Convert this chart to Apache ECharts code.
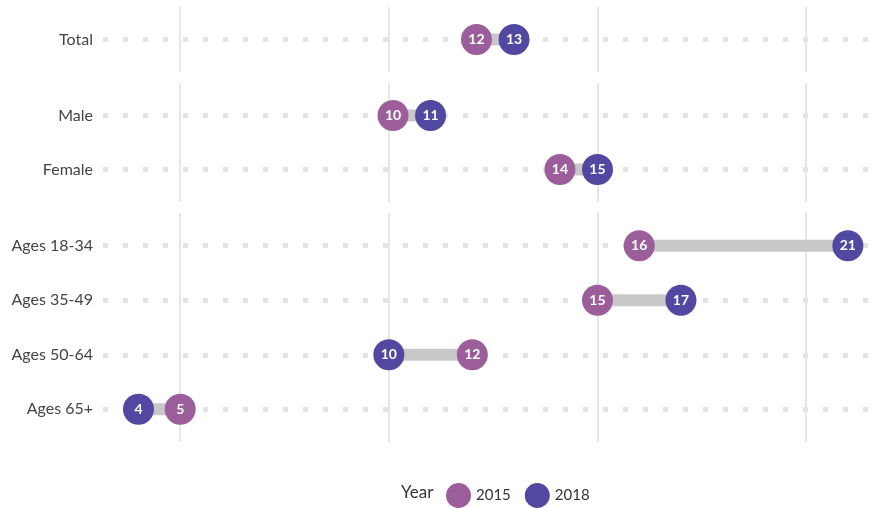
<!DOCTYPE html>
<html>
<head>
<meta charset="utf-8">
<script src="https://cdn.jsdelivr.net/npm/echarts@6/dist/echarts.min.js"></script>
<style>
  html, body { margin: 0; padding: 0; background: #fff; }
  #chart { width: 880px; height: 508px; }
</style>
</head>
<body>
<div id="chart"></div>
<script>
(function () {
  "use strict";

  // Data
  const categories = ['Total', 'Male', 'Female', 'Ages 18-34', 'Ages 35-49', 'Ages 50-64', 'Ages 65+'];
  const panelOf = [0, 1, 1, 2, 2, 2, 2];
  const values2015 = [12.1, 10.1, 14.1, 16, 15, 12, 5];
  const values2018 = [13, 11, 15, 21, 17, 10, 4];
  const years = ['2015', '2018'];

  const colors = { '2015': '#9c5e9b', '2018': '#5247a1' };
  const font = 'Lato, "Source Sans Pro", sans-serif';

  // panel boxes (top, height)
  const panels = [
    { top: 7, height: 65 },
    { top: 83, height: 119 },
    { top: 213, height: 229 }
  ];

  // rows of each panel; y position = 3 + 5 * index in panel
  const rowsOf = panels.map((_, p) => categories
    .map((c, i) => i)
    .filter(i => panelOf[i] === p));
  const yPos = k => 3 + 5 * k;

  const grid = [], xAxis = [], yAxis = [], series = [];

  panels.forEach((box, p) => {
    const rows = rowsOf[p];
    const names = rows.map(i => categories[i]);

    grid.push({ left: 103, right: 0, top: box.top, height: box.height });

    xAxis.push({
      type: 'value', gridIndex: p, min: 3.15, max: 21.77, splitNumber: 4,
      axisLine: { show: false }, axisTick: { show: false }, axisLabel: { show: false },
      splitLine: { show: true, showMinLine: false, showMaxLine: false, lineStyle: { color: '#e6e6e6', width: 2 } }
    });

    yAxis.push({
      type: 'value', gridIndex: p, inverse: true, min: 0, max: 5 * (rows.length - 1) + 6, interval: 1,
      axisLine: { show: false }, axisTick: { show: false }, splitLine: { show: false },
      axisLabel: {
        margin: 10, fontSize: 16, color: '#444', fontFamily: font,
        formatter: v => ((v - 3) % 5 === 0 ? names[(v - 3) / 5] || '' : '')
      }
    });

    // dotted row guides
    series.push({
      type: 'line', xAxisIndex: p, yAxisIndex: p, data: [], z: 1, zlevel: 0, silent: true,
      markLine: {
        silent: true, symbol: 'none', label: { show: false }, animation: false, z: 1,
        lineStyle: { color: '#e4e4e4', width: 5, type: [5, 15], cap: 'butt' },
        data: rows.map((i, k) => ({ yAxis: yPos(k) }))
      }
    });

    // grey connector
    series.push({
      type: 'custom', xAxisIndex: p, yAxisIndex: p, z: 9, silent: true,
      data: rows.map((i, k) => [values2015[i], values2018[i], yPos(k)]),
      encode: { x: [0, 1], y: 2 },
      renderItem: (params, api) => {
        const a = api.coord([api.value(0), api.value(2)]);
        const b = api.coord([api.value(1), api.value(2)]);
        return {
          type: 'line',
          shape: { x1: a[0], y1: a[1], x2: b[0], y2: b[1] },
          style: { stroke: '#c8c8c8', lineWidth: 12 }
        };
      }
    });

    // dots
    [values2015, values2018].forEach((vals, s) => {
      series.push({
        name: years[s], type: 'scatter', xAxisIndex: p, yAxisIndex: p, z: 10,
        symbolSize: 31,
        itemStyle: { color: colors[years[s]], opacity: 1 },
        label: {
          show: true, position: 'inside', color: '#fff', fontWeight: 'bold',
          fontSize: 14, fontFamily: font,
          formatter: d => Math.round(d.value[0])
        },
        data: rows.map((i, k) => [vals[i], yPos(k)])
      });
    });
  });

  echarts.init(document.getElementById('chart')).setOption({
    animation: false,
    title: {
      text: 'Year', left: 396, top: 479,
      textStyle: { fontSize: 17, fontWeight: 'normal', color: '#333', fontFamily: font }
    },
    legend: {
      data: years, left: 441, top: 478, icon: 'circle',
      itemWidth: 25, itemHeight: 25, itemGap: 14,
      textStyle: { fontSize: 15, color: '#333', fontFamily: font }
    },
    grid, xAxis, yAxis, series
  });

})();
</script>
</body>
</html>
